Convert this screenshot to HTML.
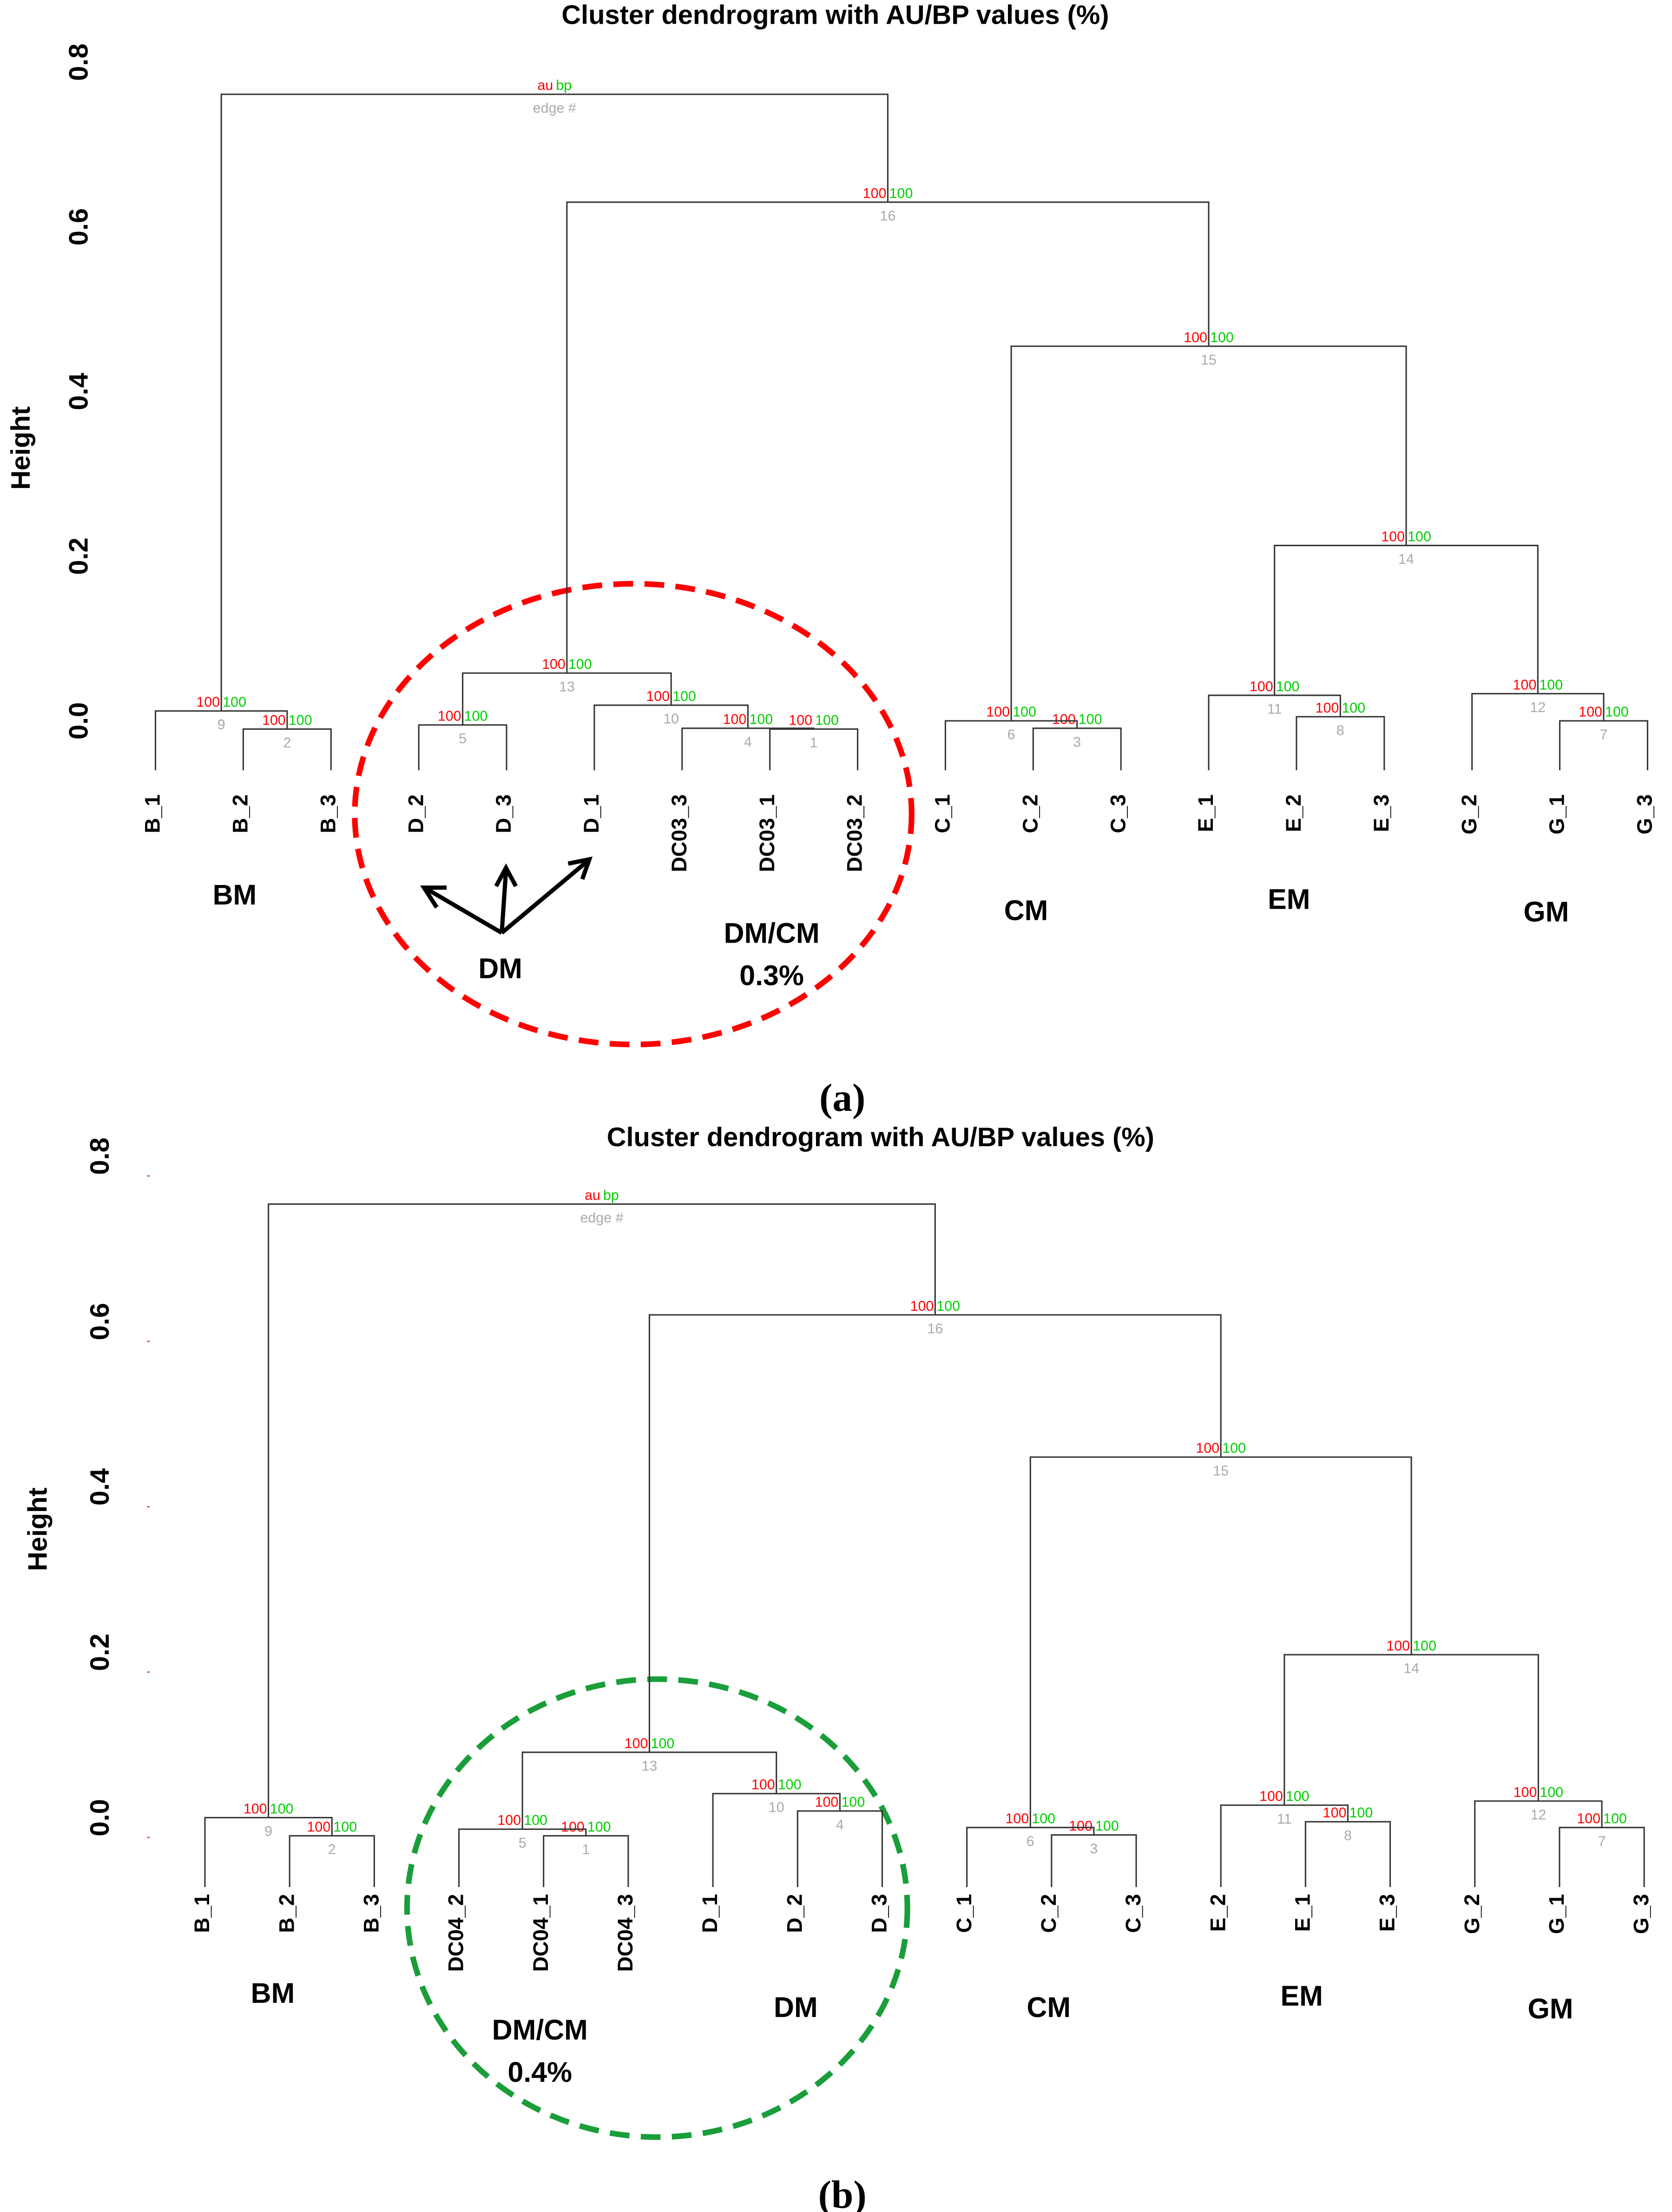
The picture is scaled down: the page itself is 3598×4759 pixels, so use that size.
<!DOCTYPE html>
<html><head><meta charset="utf-8">
<style>
html,body{margin:0;padding:0;background:#fff;}
svg{display:block;}
text{font-family:"Liberation Sans",sans-serif;}
.ax{font-size:19px;font-weight:bold;}
.leaf{font-size:15px;font-weight:bold;}
.grp{font-size:20px;font-weight:bold;}
.au{font-size:10px;fill:#ff0000;}
.bp{font-size:10px;fill:#00cc00;}
.ed{font-size:10px;fill:#aaaaaa;}
</style></head>
<body>
<svg id="chart" width="3598" height="4759" viewBox="0 0 1183 1565" preserveAspectRatio="none" xmlns="http://www.w3.org/2000/svg">
<rect width="1183" height="1565" fill="#fff"/>
<text x="591" y="17" text-anchor="middle" style="font-size:19px;font-weight:bold">Cluster dendrogram with AU/BP values (%)</text>
<text transform="translate(21,317) rotate(-90)" text-anchor="middle" class="ax">Height</text>
<text x="596" y="786" text-anchor="middle" style="font-family:'Liberation Serif',serif;font-size:28px;font-weight:bold">(a)</text>
<ellipse cx="448" cy="576" rx="197" ry="163" fill="none" stroke="#ff0000" stroke-width="4" stroke-dasharray="14,8"/>
<g stroke="#000" stroke-width="3" fill="none">
<line x1="355" y1="660" x2="302" y2="629"/><polyline points="316,628 300,628 309,642"/>
<line x1="355" y1="660" x2="358" y2="616"/><polyline points="351,627 358,614 365,627"/>
<line x1="355" y1="660" x2="416" y2="609"/><polyline points="402,611 417,608 412,622"/>
</g>
<text x="166" y="640" text-anchor="middle" class="grp">BM</text>
<text x="354" y="692" text-anchor="middle" class="grp">DM</text>
<text x="546" y="667" text-anchor="middle" class="grp">DM/CM</text>
<text x="546" y="697" text-anchor="middle" class="grp">0.3%</text>
<text x="726" y="651" text-anchor="middle" class="grp">CM</text>
<text x="912" y="643" text-anchor="middle" class="grp">EM</text>
<text x="1094" y="652" text-anchor="middle" class="grp">GM</text>
<text x="623" y="811" text-anchor="middle" style="font-size:19px;font-weight:bold">Cluster dendrogram with AU/BP values (%)</text>
<text transform="translate(33,1082) rotate(-90)" text-anchor="middle" class="ax">Height</text>
<text x="596" y="1562" text-anchor="middle" style="font-family:'Liberation Serif',serif;font-size:28px;font-weight:bold">(b)</text>
<ellipse cx="465" cy="1350" rx="177" ry="162" fill="none" stroke="#1a9e3a" stroke-width="4" stroke-dasharray="14,8"/>
<text x="193" y="1417" text-anchor="middle" class="grp">BM</text>
<text x="382" y="1443" text-anchor="middle" class="grp">DM/CM</text>
<text x="382" y="1473" text-anchor="middle" class="grp">0.4%</text>
<text x="563" y="1427" text-anchor="middle" class="grp">DM</text>
<text x="742" y="1427" text-anchor="middle" class="grp">CM</text>
<text x="921" y="1419" text-anchor="middle" class="grp">EM</text>
<text x="1097" y="1428" text-anchor="middle" class="grp">GM</text>
<g id="plots"></g>
</svg>
<script>
const leavesA = ["B_1","B_2","B_3","D_2","D_3","D_1","DC03_3","DC03_1","DC03_2","C_1","C_2","C_3","E_1","E_2","E_3","G_2","G_1","G_3"];
const mergesA = [["DC03_1","DC03_2"],["B_2","B_3"],["C_2","C_3"],["DC03_3","n1"],["D_2","D_3"],["C_1","n3"],["G_1","G_3"],["E_2","E_3"],["B_1","n2"],["D_1","n4"],["E_1","n8"],["G_2","n7"],["n5","n10"],["n11","n12"],["n6","n14"],["n13","n15"],["n9","n16"]];
const heightsA = [-0.010,-0.010,-0.009,-0.009,-0.005,0.000,0.000,0.005,0.012,0.019,0.031,0.033,0.058,0.213,0.455,0.630,0.761];
const auA = [100,100,100,100,100,100,100,100,100,100,100,100,100,100,100,100,null];
const bpA = [100,100,100,100,100,100,100,100,100,100,100,100,100,100,100,100,null];
const ticksA = [0.0,0.2,0.4,0.6,0.8];
const leavesB = ["B_1","B_2","B_3","DC04_2","DC04_1","DC04_3","D_1","D_2","D_3","C_1","C_2","C_3","E_2","E_1","E_3","G_2","G_1","G_3"];
const mergesB = [["DC04_1","DC04_3"],["B_2","B_3"],["C_2","C_3"],["D_2","D_3"],["DC04_2","n1"],["C_1","n3"],["G_1","G_3"],["E_1","E_3"],["B_1","n2"],["D_1","n4"],["E_2","n8"],["G_2","n7"],["n5","n10"],["n11","n12"],["n6","n14"],["n13","n15"],["n9","n16"]];
const heightsB = [0.002,0.002,0.003,0.032,0.010,0.012,0.012,0.019,0.024,0.053,0.039,0.044,0.103,0.221,0.460,0.632,0.766];
const auB = [100,100,100,100,100,100,100,100,100,100,100,100,100,100,100,100,null];
const bpB = [100,100,100,100,100,100,100,100,100,100,100,100,100,100,100,100,null];
const ticksB = [0.0,0.2,0.4,0.6,0.8];
const leafH = -0.06;

const NS = "http://www.w3.org/2000/svg";
const root = document.getElementById("plots");
function mk(tag, attrs, parent, txt){
  const e = document.createElementNS(NS, tag);
  for (const k in attrs) e.setAttribute(k, attrs[k]);
  if (txt !== undefined) e.textContent = txt;
  parent.appendChild(e);
  return e;
}
function drawPanel(p, leaves, merges, heights, au, bp, ticks, x0, dx, y0, yScale, tickX, tickYShift, leafLabelTop, showTickMarks){
  const g = mk("g", {}, root);
  
  
  const xOf = i => x0 + i * dx;
  const yOf = h => y0 - h * yScale;
  ticks.forEach(t => {
    const lab = mk("text", {transform:`translate(${tickX},${yOf(t)+tickYShift}) rotate(-90)`, "text-anchor":"middle", class:"ax"}, g, t.toFixed(1));
    
    
    if (showTickMarks){
      const m = mk("line", {x1:tickX+27, x2:tickX+29, y1:yOf(t), y2:yOf(t), stroke:"#e06060", "stroke-width":1}, g);
      
      
    }
  });
  const pos = {};
  leaves.forEach((n, i) => { pos[n] = {x: xOf(i), h: leafH}; });
  leaves.forEach((n, i) => {
    const t = mk("text", {transform:`translate(${xOf(i)+3},${leafLabelTop}) rotate(-90)`, "text-anchor":"end", class:"leaf"}, g, n);
    
    
  });
  merges.forEach((m, k) => {
    const a = pos[m[0]], b = pos[m[1]];
    const h = heights[k];
    const yh = yOf(h);
    const path = mk("path", {d:`M${a.x},${yOf(a.h)} V${yh} H${b.x} V${yOf(b.h)}`, fill:"none", stroke:"#333", "stroke-width":1}, g);
    
    
    const cx = (a.x + b.x) / 2;
    pos["n" + (k+1)] = {x: cx, h: h};
    const isRoot = au[k] === null;
    const t1 = mk("text", {x:cx-1, y:yh-3, "text-anchor":"end", class:"au"}, g, isRoot ? "au" : au[k]);
    
    
    const t2 = mk("text", {x:cx+1, y:yh-3, "text-anchor":"start", class:"bp"}, g, isRoot ? "bp" : bp[k]);
    
    
    const t3 = mk("text", {x:cx, y:yh+13, "text-anchor":"middle", class:"ed"}, g, isRoot ? "edge #" : (k+1));
    
    
  });
}
drawPanel("a", leavesA, mergesA, heightsA, auA, bpA, ticksA, 110, 62.1, 510, 582.5, 62, 0, 562, false);
drawPanel("b", leavesB, mergesB, heightsB, auB, bpB, ticksB, 145, 59.9, 1300, 585, 77, -14, 1340, true);
</script>
</body></html>
